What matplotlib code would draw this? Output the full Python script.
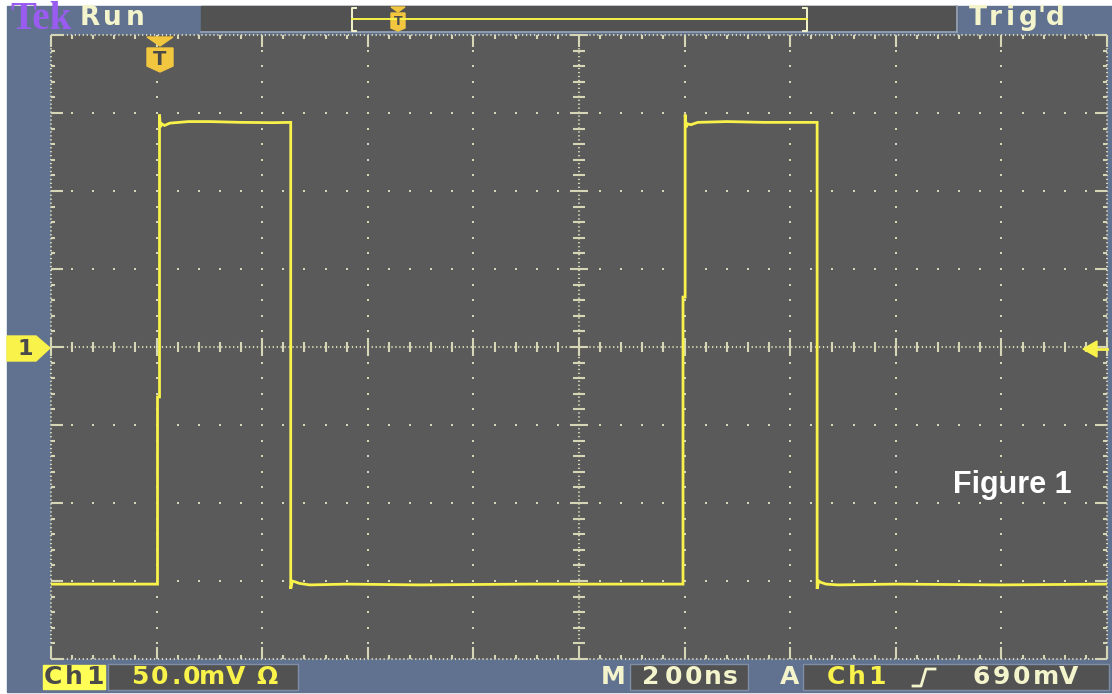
import matplotlib
matplotlib.use('Agg')
import matplotlib.pyplot as plt
import numpy as np
from matplotlib.patches import Rectangle, Polygon
from matplotlib.collections import LineCollection

# captured waveform, channel 1 (time in ns from left edge, level in mV)
t_ns = [0, 100, 201.7, 201.7, 205.5, 205.5, 207, 210, 215, 225, 260, 300, 360, 420,
        454, 454, 457, 462, 470, 490, 560, 700, 900, 1100, 1197, 1197, 1201, 1201,
        1203, 1206, 1212, 1225, 1280, 1350, 1420, 1451, 1451, 1454, 1459, 1468,
        1490, 1600, 1800, 2000]
v_mV = [-152, -152, -152, -32, -32, 149, 141, 143, 142, 143.5, 144.5, 144.5, 144, 143.8,
        144, -155, -150, -150.5, -151.5, -152.5, -152, -152.5, -152, -152, -152, 32, 32, 149,
        141, 143, 142.5, 144, 144.5, 144, 144, 144, -155, -150, -151, -152,
        -152.5, -152, -152.5, -152]

# scope settings
ns_per_div = 200
mv_per_div = 50
n_xdiv = 10
n_ydiv = 8

W, H = 1112, 694
FRAME = '#60728f'
SCREEN = '#5a5a5a'
BOX = '#525252'
DOT = '#d6d6b6'
CREAM = '#f4f4cc'
YEL = '#f8f24a'
MARK = '#f2c63e'

fig = plt.figure(figsize=(W / 100, H / 100), dpi=100, facecolor='white')

# pixel-space layers behind and in front of the screen
bg = fig.add_axes([0, 0, 1, 1], zorder=0)
bg.set_xlim(0, W); bg.set_ylim(H, 0); bg.axis('off')
fg = fig.add_axes([0, 0, 1, 1], zorder=3)
fg.set_xlim(0, W); fg.set_ylim(H, 0); fg.axis('off')
fg.patch.set_alpha(0)

bg.add_patch(Rectangle((7, 6), W - 7, H - 8, color=FRAME))

# ---- screen ----
ax = fig.add_axes([51 / W, (H - 659) / H, 1056 / W, 624 / H], zorder=1)
ax.set_facecolor(SCREEN)
xmax = ns_per_div * n_xdiv
ymax = mv_per_div * n_ydiv / 2
ax.set_xlim(0, xmax)
ax.set_ylim(-ymax, ymax)
ax.set_xticks([]); ax.set_yticks([])
for s in ax.spines.values():
    s.set_visible(False)

px_x = ns_per_div / 105.6
px_y = mv_per_div / 78.0
xmaj = np.arange(0, xmax + 1, ns_per_div)
ymaj = np.arange(-ymax, ymax + 1, mv_per_div)
xmin_ = np.arange(0, xmax + 1, ns_per_div / 5)
ymin_ = np.arange(-ymax, ymax + 1, mv_per_div / 5)
xc = xmax / 2

# grid dots along every division line
dx, dy = [], []
for xm in xmaj[1:-1]:
    if xm == xc:
        continue
    for ym in ymin_[1:-1]:
        dx.append(xm); dy.append(ym)
for ym in ymaj[1:-1]:
    if ym == 0:
        continue
    for xm in xmin_[1:-1]:
        dx.append(xm); dy.append(ym)
ax.plot(dx, dy, 's', ms=1.8, color=DOT, mew=0)

# dotted border and centre cross
dash = (0, (0.6, 1.3))
for xs, ys in [([0, xmax], [ymax, ymax]), ([0, xmax], [-ymax, -ymax]),
               ([0, 0], [-ymax, ymax]), ([xmax, xmax], [-ymax, ymax]),
               ([0, xmax], [0, 0]), ([xc, xc], [-ymax, ymax])]:
    ax.plot(xs, ys, color=DOT, lw=1.5, ls=dash, clip_on=False)

segs = []
for xm in xmin_:
    major = xm in xmaj
    L = (12 if major else 4) * px_y
    segs.append([(xm, ymax), (xm, ymax - L)])
    segs.append([(xm, -ymax), (xm, -ymax + L)])
    h = (9 if major else 5) * px_y
    segs.append([(xm, -h), (xm, h)])
for ym in ymin_:
    major = ym in ymaj
    L = (12 if major else 4) * px_x
    segs.append([(0, ym), (L, ym)])
    segs.append([(xmax, ym), (xmax - L, ym)])
    h = (9 if major else 6) * px_x
    segs.append([(xc - h, ym), (xc + h, ym)])
ax.add_collection(LineCollection(segs, colors=DOT, linewidths=1.5, clip_on=False))

# channel 1 trace
ax.plot(t_ns, v_mV, color=YEL, lw=2.0, solid_joinstyle='miter', zorder=5)


def chars(a, text, xs, y, color, size=18):
    for c, x in zip(text, xs):
        a.text(x, y, c, color=color, fontsize=size, fontweight='bold',
               family='DejaVu Sans', ha='center', va='center')


# ---- top status bar ----
bg.add_patch(Rectangle((201, 6), 756, 26, color=BOX))
bg.plot([201, 957], [32, 32], color='#9aa8c0', lw=1.2)
bg.plot([957, 957], [6, 32], color='#9aa8c0', lw=1.2)
fg.text(10, 19, 'Tek', color='#9a5cf0', fontsize=28, fontweight='bold',
        family='Liberation Serif', ha='left', va='center')
chars(fg, 'Run', [90, 112, 135], 18, CREAM, 19)
chars(fg, "Trig'd", [978, 995, 1010, 1028, 1041, 1055], 18, CREAM, 19)

# record view with trigger position
fg.plot([356, 352, 352, 356], [8, 8, 31, 31], color=CREAM, lw=1.4)
fg.plot([803, 807, 807, 803], [8, 8, 31, 31], color=CREAM, lw=1.4)
fg.plot([352, 807], [19, 19], color=YEL, lw=1.4)
fg.add_patch(Polygon([(391, 7), (405, 7), (398, 12)], color=MARK))
fg.add_patch(Polygon([(391, 13), (405, 13), (405, 28), (398, 31), (391, 28)], color=MARK))
fg.text(398, 21, 'T', color='#4a4a4a', fontsize=9, fontweight='bold', ha='center', va='center')

# trigger marker on the screen
fg.add_patch(Polygon([(147, 37), (173, 37), (160, 46)], color=MARK))
fg.add_patch(Polygon([(147, 48), (173, 48), (173, 66), (160, 72), (147, 66)], color=MARK))
fg.text(160, 59, 'T', color='#4a4a4a', fontsize=14, fontweight='bold', ha='center', va='center')

# channel 1 ground marker and trigger level arrow
fg.add_patch(Polygon([(7, 336), (36, 336), (50, 348), (36, 361), (7, 361)], color=YEL))
fg.text(25, 349, '1', color='#4a4a4a', fontsize=16, fontweight='bold', ha='center', va='center')
fg.add_patch(Polygon([(1083, 349), (1097, 341), (1097, 357)], color=YEL))
fg.plot([1096, 1107], [349, 349], color=YEL, lw=2)

# ---- bottom readout ----
bg.add_patch(Rectangle((43, 665), 62, 24, color='#ffff55'))
bg.add_patch(Rectangle((108, 664), 190, 26, color=BOX, ec='#7f8ea6', lw=1))
bg.add_patch(Rectangle((630, 664), 118, 26, color=BOX, ec='#7f8ea6', lw=1))
bg.add_patch(Rectangle((803, 664), 306, 26, color=BOX, ec='#7f8ea6', lw=1))
chars(fg, 'Ch1', [53, 74, 95], 677, '#4a4a4a')
chars(fg, '50.0mVΩ', [140, 160, 176, 191, 212, 236, 267], 677, YEL)
chars(fg, 'M', [613], 677, CREAM)
chars(fg, '200ns', [651, 673, 693, 713, 730], 677, CREAM)
chars(fg, 'A', [790], 677, CREAM)
chars(fg, 'Ch1', [836, 857, 877], 677, YEL)
fg.plot([913, 921, 926, 935], [686, 686, 669, 669], color=CREAM, lw=2)
chars(fg, '690mV', [981, 1001, 1021, 1046, 1069], 677, CREAM)

fg.text(953, 493, 'Figure 1', color='white', fontsize=22, fontweight='bold',
        family='Liberation Sans', ha='left', va='baseline')

fig.savefig('out.png', dpi=100, facecolor=fig.get_facecolor())
